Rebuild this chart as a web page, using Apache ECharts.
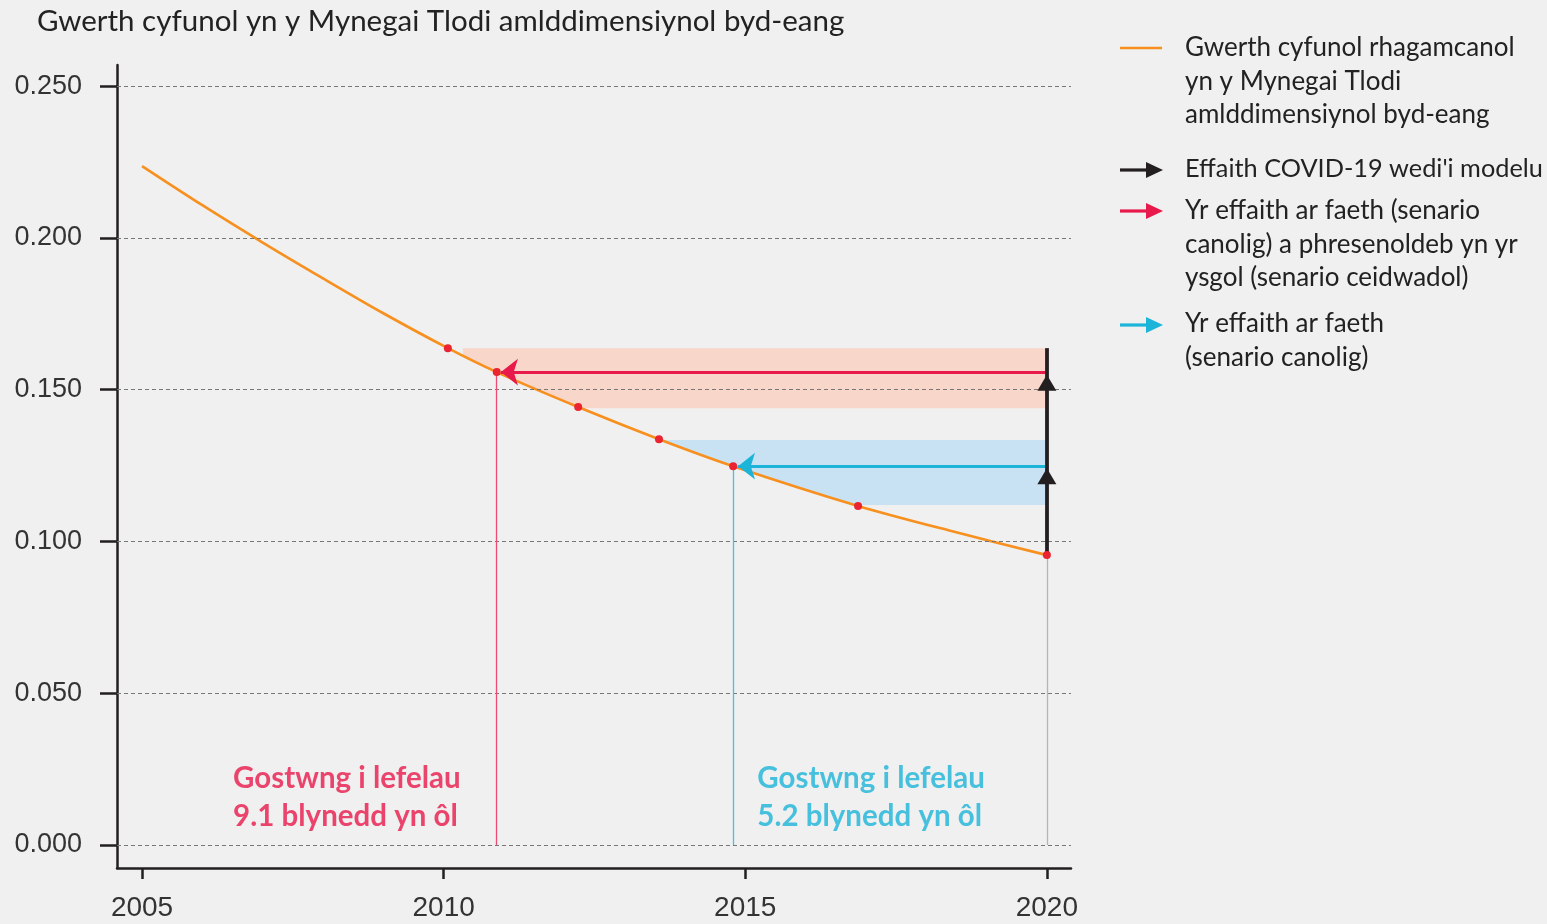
<!DOCTYPE html>
<html>
<head>
<meta charset="utf-8">
<title>Mynegai Tlodi amlddimensiynol byd-eang</title>
<script src="https://cdn.jsdelivr.net/npm/echarts@6.0.0/dist/echarts.min.js"></script>
<style>
  html, body { margin: 0; padding: 0; background: #f0f0f0; }
  #chart { width: 1547px; height: 924px; }
</style>
</head>
<body>
<div id="chart"></div>
<script>
// data
var curveYears = [2005, 2006, 2007, 2008, 2009, 2010.07, 2010.88, 2012.23, 2013.57, 2014.80, 2016.87, 2018.4, 2020];
var curveValues = [0.2237, 0.2108, 0.1985, 0.1867, 0.1752, 0.1637, 0.1558, 0.1443, 0.1337, 0.1248, 0.1117, 0.1035, 0.0955];
var dotYears = [2010.07, 2010.88, 2012.23, 2013.57, 2014.80, 2016.87, 2020];
var dotValues = [0.1637, 0.1558, 0.1443, 0.1337, 0.1248, 0.1117, 0.0955];

var xTicks = [2005, 2010, 2015, 2020];
var yTicks = [0, 0.05, 0.1, 0.15, 0.2, 0.25];

// covid effect at 2020 and the years it sends the index back to
var covidYear = 2020;
var covidBase = 0.0955;
var covidTop = 0.1637;
var backYears = [2010.88, 2014.80];       // red, blue
var backValues = [0.1558, 0.1248];
var headYears = [2010.95, 2014.88];       // arrow heads of red / blue
var upHeadValues = [0.1523, 0.1215];      // black arrow heads

// shaded ranges (left year, low, high)
var bandLeft = [2010.32, 2013.5];
var bandLow = [0.1439, 0.1120];
var bandHigh = [0.1637, 0.1334];
var bandColors = ['#f9d6ca', '#c8e2f4'];

var annoYears = [2006.51, 2015.2];
var annoValues = [0.0158, 0.0158];
var annoTexts = ['Gostwng i lefelau\n9.1 blynedd yn ôl', 'Gostwng i lefelau\n5.2 blynedd yn ôl'];

var RED = '#e8194b';
var BLUE = '#1cb4d8';
var BLACK = '#231f20';
var ORANGE = '#f7901e';
var FONT = 'Lato, "Open Sans", sans-serif';
var NARROW = '"Liberation Sans Narrow", "Liberation Sans", Arial, sans-serif';

function curveAt(x) {
    for (var i = 0; i < curveYears.length - 1; i++) {
        if (x >= curveYears[i] && x <= curveYears[i + 1]) {
            var t = (x - curveYears[i]) / (curveYears[i + 1] - curveYears[i]);
            return curveValues[i] + t * (curveValues[i + 1] - curveValues[i]);
        }
    }
    return x < curveYears[0] ? curveValues[0] : curveValues[curveValues.length - 1];
}

// band = rectangle, only the part above the curve
function bandItem(params, api) {
    var k = params.dataIndex;
    var xl = bandLeft[k], xr = covidYear, lo = bandLow[k], hi = bandHigh[k];
    var xs = [xl, xr];
    for (var i = 0; i < curveYears.length - 1; i++) {
        var x0 = curveYears[i], x1 = curveYears[i + 1];
        var v0 = curveValues[i], v1 = curveValues[i + 1];
        if (x0 > xl && x0 < xr) xs.push(x0);
        [lo, hi].forEach(function (lv) {
            if ((v0 - lv) * (v1 - lv) < 0) {
                var xc = x0 + (lv - v0) / (v1 - v0) * (x1 - x0);
                if (xc > xl && xc < xr) xs.push(xc);
            }
        });
    }
    xs.sort(function (a, b) { return a - b; });
    var top = xs.map(function (x) { return api.coord([x, hi]); });
    var bottom = xs.map(function (x) {
        return api.coord([x, Math.min(hi, Math.max(lo, curveAt(x)))]);
    }).reverse();
    return {
        type: 'polygon',
        shape: { points: top.concat(bottom) },
        style: { fill: bandColors[k] }
    };
}

var chart = echarts.init(document.getElementById('chart'));

var option = {
    backgroundColor: '#f0f0f0',
    animation: false,
    title: {
        text: 'Gwerth cyfunol yn y Mynegai Tlodi amlddimensiynol byd-eang',
        left: 37,
        top: 6,
        padding: 0,
        textStyle: { fontFamily: FONT, fontSize: 29.5, fontWeight: 'normal', color: '#222' }
    },
    grid: { left: 117, right: 476, top: 65, bottom: 56 },
    xAxis: {
        type: 'value',
        min: 2004.585,
        max: 2020.4,
        axisLine: { onZero: false, lineStyle: { color: BLACK, width: 2.5 } },
        axisTick: { customValues: xTicks, length: 11, lineStyle: { color: BLACK, width: 2.5 } },
        axisLabel: {
            customValues: xTicks,
            margin: 26,
            fontFamily: NARROW,
            fontSize: 28,
            color: '#333',
            formatter: function (v) { return String(v); }
        },
        splitLine: { show: false }
    },
    yAxis: {
        type: 'value',
        min: -0.0076,
        max: 0.257,
        axisLine: { show: true, onZero: false, lineStyle: { color: BLACK, width: 2.5 } },
        axisTick: { show: true, customValues: yTicks, length: 17, lineStyle: { color: BLACK, width: 2.5 } },
        axisLabel: {
            customValues: yTicks,
            margin: 35,
            fontFamily: NARROW,
            fontSize: 27,
            color: '#333',
            formatter: function (v) { return v.toFixed(3); }
        },
        splitLine: { show: false }
    },
    series: [
        {
            name: 'grid',
            type: 'line',
            data: [],
            z: 1,
            silent: true,
            markLine: {
                silent: true,
                symbol: 'none',
                label: { show: false },
                lineStyle: { color: '#777', type: [4, 3], width: 1.2 },
                data: yTicks.map(function (v) { return { yAxis: v }; })
            }
        },
        {
            name: 'bands',
            type: 'custom',
            z: 2,
            silent: true,
            renderItem: bandItem,
            data: bandLeft.map(function (x, i) { return [x, bandLow[i]]; })
        },
        {
            name: 'drops',
            type: 'line',
            data: [],
            z: 3,
            silent: true,
            markLine: {
                silent: true,
                symbol: 'none',
                label: { show: false },
                data: [
                    [{ coord: [backYears[0], backValues[0]], lineStyle: { color: '#ec4c72', width: 1.3, type: 'solid' } },
                     { coord: [backYears[0], 0] }],
                    [{ coord: [backYears[1], backValues[1]], lineStyle: { color: '#45c2e0', width: 1.3, type: 'solid' } },
                     { coord: [backYears[1], 0] }],
                    [{ coord: [covidYear, covidBase], lineStyle: { color: '#b5b5b5', width: 1.3, type: 'solid' } },
                     { coord: [covidYear, 0] }]
                ]
            }
        },
        {
            name: 'Gwerth cyfunol rhagamcanol',
            type: 'line',
            z: 4,
            smooth: 0.3,
            showSymbol: false,
            lineStyle: { color: ORANGE, width: 2.6 },
            data: curveYears.map(function (x, i) { return [x, curveValues[i]]; })
        },
        {
            name: 'arrows',
            type: 'line',
            data: [],
            z: 5,
            silent: true,
            markLine: {
                silent: true,
                symbol: 'none',
                label: { show: false },
                data: [
                    [{ coord: [covidYear, backValues[0]], lineStyle: { color: RED, width: 3.2, type: 'solid' } },
                     { coord: [headYears[0], backValues[0]] }],
                    [{ coord: [covidYear, backValues[1]], lineStyle: { color: BLUE, width: 3.2, type: 'solid' } },
                     { coord: [headYears[1], backValues[1]] }],
                    [{ coord: [covidYear, covidBase], lineStyle: { color: BLACK, width: 3.8, type: 'solid' } },
                     { coord: [covidYear, covidTop] }]
                ]
            }
        },
        {
            name: 'dots',
            type: 'scatter',
            z: 6,
            symbolSize: 8,
            itemStyle: { color: '#ea2430', opacity: 1 },
            data: dotYears.map(function (x, i) { return [x, dotValues[i]]; })
        },
        {
            name: 'heads',
            type: 'scatter',
            z: 7,
            silent: true,
            data: [
                { value: [headYears[0], backValues[0]], symbol: 'arrow', symbolSize: [20, 17], symbolRotate: 90, itemStyle: { color: RED, opacity: 1 } },
                { value: [headYears[1], backValues[1]], symbol: 'arrow', symbolSize: [20, 17], symbolRotate: 90, itemStyle: { color: BLUE, opacity: 1 } },
                { value: [covidYear, upHeadValues[0]], symbol: 'triangle', symbolSize: [19, 16], itemStyle: { color: BLACK, opacity: 1 } },
                { value: [covidYear, upHeadValues[1]], symbol: 'triangle', symbolSize: [19, 16], itemStyle: { color: BLACK, opacity: 1 } }
            ]
        },
        {
            name: 'notes',
            type: 'scatter',
            z: 8,
            silent: true,
            symbolSize: 0,
            data: annoYears.map(function (x, i) {
                return {
                    value: [x, annoValues[i]],
                    label: {
                        show: true,
                        position: 'right',
                        distance: 0,
                        formatter: annoTexts[i],
                        fontFamily: FONT,
                        fontWeight: 'bold',
                        fontSize: 29.5,
                        lineHeight: 38,
                        color: i === 0 ? RED : BLUE
                    }
                };
            })
        }
    ],
    graphic: [
        // legend
        { type: 'line', shape: { x1: 1120, y1: 48, x2: 1162, y2: 48 }, style: { stroke: ORANGE, lineWidth: 2.5 } },
        { type: 'text', left: 1185, top: 31, style: { text: 'Gwerth cyfunol rhagamcanol\nyn y Mynegai Tlodi\namlddimensiynol byd-eang', font: '26px ' + FONT, lineHeight: 33.5, fill: '#222' } },

        { type: 'line', shape: { x1: 1120, y1: 170, x2: 1150, y2: 170 }, style: { stroke: BLACK, lineWidth: 3.2 } },
        { type: 'polygon', shape: { points: [[1146, 162], [1163, 170], [1146, 178]] }, style: { fill: BLACK } },
        { type: 'text', left: 1185, top: 152, style: { text: "Effaith COVID-19 wedi'i modelu", font: '25.3px ' + FONT, lineHeight: 33.5, fill: '#222' } },

        { type: 'line', shape: { x1: 1120, y1: 211, x2: 1150, y2: 211 }, style: { stroke: RED, lineWidth: 3.2 } },
        { type: 'polygon', shape: { points: [[1146, 203], [1163, 211], [1146, 219]] }, style: { fill: RED } },
        { type: 'text', left: 1185, top: 194, style: { text: 'Yr effaith ar faeth (senario\ncanolig) a phresenoldeb yn yr\nysgol (senario ceidwadol)', font: '26px ' + FONT, lineHeight: 33.5, fill: '#222' } },

        { type: 'line', shape: { x1: 1120, y1: 325, x2: 1150, y2: 325 }, style: { stroke: BLUE, lineWidth: 3.2 } },
        { type: 'polygon', shape: { points: [[1146, 317], [1163, 325], [1146, 333]] }, style: { fill: BLUE } },
        { type: 'text', left: 1185, top: 307, style: { text: 'Yr effaith ar faeth\n(senario canolig)', font: '26px ' + FONT, lineHeight: 33.5, fill: '#222' } }
    ]
};

chart.setOption(option);
</script>
</body>
</html>
